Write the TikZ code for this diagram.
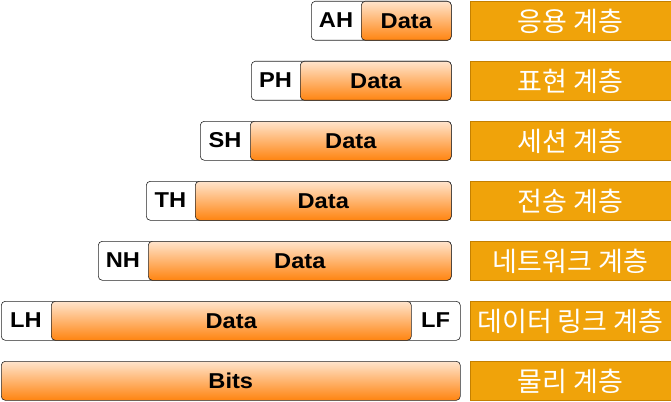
\documentclass[tikz,border=0pt]{standalone}
\usepackage{fontspec}
\setmainfont{Liberation Sans}
\newfontfamily\krfont{Noto Sans CJK KR}
\definecolor{lblfill}{RGB}{240,163,10}
\definecolor{lbldraw}{RGB}{196,128,0}
\definecolor{gtop}{RGB}{255,228,204}
\definecolor{gbot}{RGB}{255,132,16}
\newcommand{\wtxt}[1]{\scalebox{1.1}[1]{#1}}
\tikzset{
  hbox/.style={draw=black!85, fill=white, rounded corners=4pt, line width=0.6pt, inner sep=0pt, minimum height=39pt, anchor=north west},
  dbox/.style={draw=black!85, rounded corners=4pt, line width=0.6pt, top color=gtop, bottom color=gbot, inner sep=0pt, minimum height=39pt, anchor=north west, font=\bfseries\fontsize{21.5}{21.5}\selectfont},
  htxt/.style={font=\bfseries\fontsize{21.5}{21.5}\selectfont, inner sep=0pt},
  lbl/.style={draw=lbldraw, fill=lblfill, line width=0.8pt, text=white, inner sep=0pt, minimum width=201pt, minimum height=39pt, anchor=north west, font=\krfont\fontsize{27}{27}\selectfont}
}
\begin{document}
\begin{tikzpicture}[x=1pt,y=-1pt]
\useasboundingbox (0,0) rectangle (671,401);
% row 1
\node[hbox, minimum width=140pt] (w1) at (311,1) {};
\node[dbox, minimum width=90pt] (d1) at (361,1) {\wtxt{Data}};
\node[htxt] (h1) at (336,20.5) {\wtxt{AH}};
\node[lbl] (l1) at (469.5,1) {응용 계층};
% row 2
\node[hbox, minimum width=200pt] (w2) at (251,61) {};
\node[dbox, minimum width=151pt] (d2) at (300,61) {\wtxt{Data}};
\node[htxt] (h2) at (275.5,80.5) {\wtxt{PH}};
\node[lbl] (l2) at (469.5,61) {표현 계층};
% row 3
\node[hbox, minimum width=251pt] (w3) at (200,121) {};
\node[dbox, minimum width=201pt] (d3) at (250,121) {\wtxt{Data}};
\node[htxt] (h3) at (225,140.5) {\wtxt{SH}};
\node[lbl] (l3) at (469.5,121) {세션 계층};
% row 4
\node[hbox, minimum width=305pt] (w4) at (146,181) {};
\node[dbox, minimum width=256pt] (d4) at (195,181) {\wtxt{Data}};
\node[htxt] (h4) at (170.5,200.5) {\wtxt{TH}};
\node[lbl] (l4) at (469.5,181) {전송 계층};
% row 5
\node[hbox, minimum width=353pt] (w5) at (98,241) {};
\node[dbox, minimum width=303pt] (d5) at (148,241) {\wtxt{Data}};
\node[htxt] (h5) at (123,260.5) {\wtxt{NH}};
\node[lbl] (l5) at (469.5,241) {네트워크 계층};
% row 6
\node[hbox, minimum width=459pt] (w6) at (1,301) {};
\node[dbox, minimum width=360pt] (d6) at (51,301) {\wtxt{Data}};
\node[htxt] (h6) at (26,320.5) {\wtxt{LH}};
\node[htxt] (t6) at (435.5,320.5) {\wtxt{LF}};
\node[lbl] (l6) at (469.5,301) {데이터 링크 계층};
% row 7
\node[dbox, minimum width=459pt] (d7) at (1,361) {\wtxt{Bits}};
\node[lbl] (l7) at (469.5,361) {물리 계층};
\end{tikzpicture}
\end{document}
